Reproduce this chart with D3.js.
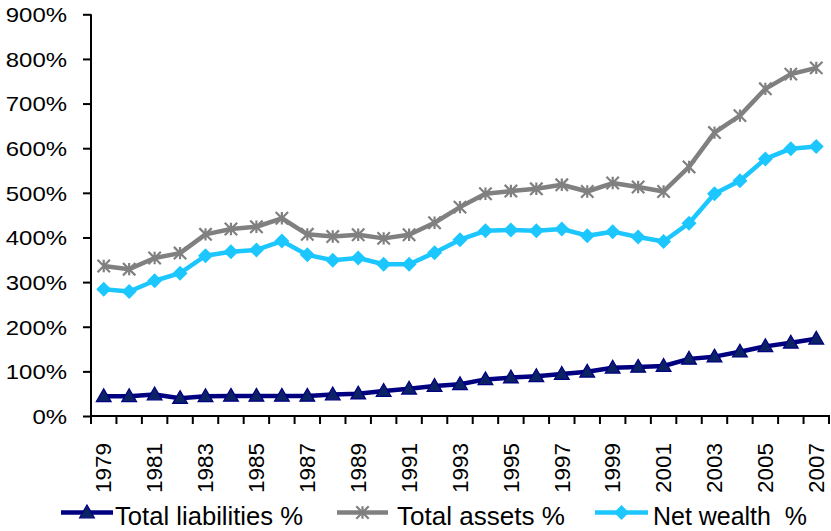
<!DOCTYPE html>
<html><head><meta charset="utf-8">
<script src="https://cdn.jsdelivr.net/npm/d3@7"></script>
<style>html,body{margin:0;padding:0;background:#fff;}svg{display:block;}</style>
</head><body>
<script>
const years = [1979,1980,1981,1982,1983,1984,1985,1986,1987,1988,1989,1990,1991,1992,1993,1994,1995,1996,1997,1998,1999,2000,2001,2002,2003,2004,2005,2006,2007];
const totalLiabilities = [44,44,48,40,44,45,45,45,45,48,50,56,61,67,71,82,86,89,94,99,108,110,112,128,133,144,156,164,173];
const totalAssets = [336,329,354,365,407,419,424,443,407,402,406,398,406,433,468,498,504,509,518,503,522,513,503,558,635,673,733,766,780];
const netWealth = [284,279,303,320,359,368,372,392,361,349,354,340,340,366,395,415,417,415,419,404,413,401,391,432,498,527,576,599,604];
const yTicks = [0,100,200,300,400,500,600,700,800,900];
const xLabels = years.filter((y,i)=>i%2===0);
const seriesNames = ["Total liabilities %","Total assets %","Net wealth  %"];

(function(){
const W=831,H=531;
const mLeft=91,mRight=829,mTop=14.3,mBottom=416;
const font="'Liberation Sans', Arial, sans-serif";

const svg=d3.select("body").append("svg").attr("width",W).attr("height",H);
const x=d3.scaleBand().domain(years).range([mLeft,mRight]).padding(0);
const y=d3.scaleLinear().domain([0,900]).range([mBottom,mTop]);
const cx=d=>x(d)+x.bandwidth()/2;

// Y axis
const yAxis=svg.append("g").attr("transform",`translate(${mLeft},0)`)
  .call(d3.axisLeft(y).tickValues(yTicks).tickFormat(d=>d+"%").tickSize(8).tickPadding(16));
yAxis.select(".domain").attr("stroke","#000").attr("stroke-width",2).attr("d",`M0,${y(900)}V${mBottom}`);
yAxis.selectAll(".tick line").attr("stroke","#000").attr("stroke-width",2);
yAxis.selectAll(".tick text").attr("font-family",font).attr("font-size",21).attr("fill","#000")
  .attr("x",-24).attr("dy","0.35em")
  .each(function(){const w=this.getComputedTextLength();d3.select(this).attr("textLength",w*1.14).attr("lengthAdjust","spacingAndGlyphs");});

// X axis
const xAxisG=svg.append("g");
xAxisG.append("line").attr("x1",mLeft-1).attr("x2",mRight+1).attr("y1",mBottom).attr("y2",mBottom).attr("stroke","#000").attr("stroke-width",2);
const bounds=years.map(d=>x(d)).concat([x(years[years.length-1])+x.bandwidth()]);
xAxisG.selectAll("line.tk").data(bounds).join("line").attr("class","tk")
  .attr("x1",d=>d).attr("x2",d=>d).attr("y1",mBottom).attr("y2",mBottom+8).attr("stroke","#000").attr("stroke-width",2);
xAxisG.selectAll("text").data(xLabels).join("text")
  .attr("transform",d=>`translate(${cx(d)},443) rotate(-90)`)
  .attr("text-anchor","end").attr("dy","0.36em")
  .attr("font-family",font).attr("font-size",21.5).attr("fill","#000")
  .attr("textLength",50).attr("lengthAdjust","spacingAndGlyphs")
  .text(d=>d);

const line=d3.line().x((d,i)=>cx(years[i])).y(d=>y(d));

const tri=d3.symbol().type(d3.symbolTriangle).size(95);
const starPath=r=>`M0,${-r}V${r}M${-r},${-r}L${r},${r}M${-r},${r}L${r},${-r}`;
const diamondPath=r=>`M0,${-r}L${r},0L0,${r}L${-r},0Z`;

const series=[
  {name:seriesNames[0],values:totalLiabilities,color:"#000080",marker:g=>g.append("path").attr("d",tri()).attr("transform","translate(0,1)").attr("fill","#0B2265").attr("stroke","#000080").attr("stroke-width",1.2)},
  {name:seriesNames[1],values:totalAssets,color:"#808080",marker:g=>g.append("path").attr("d",starPath(6.2)).attr("fill","none").attr("stroke","#808080").attr("stroke-width",2.2)},
  {name:seriesNames[2],values:netWealth,color:"#1CC6FF",marker:g=>g.append("path").attr("d",diamondPath(7.5)).attr("fill","#1CC6FF")}
];

series.forEach(s=>{
  svg.append("path").datum(s.values).attr("d",line).attr("fill","none").attr("stroke",s.color).attr("stroke-width",4.5).attr("stroke-linejoin","round");
  svg.selectAll(null).data(s.values).join("g").attr("transform",(d,i)=>`translate(${cx(years[i])},${y(d)})`).each(function(){s.marker(d3.select(this));});
});

// Legend
const legendItems=[
  {lx1:61,lx2:113,tx:115,tw:188},
  {lx1:337,lx2:388,tx:397,tw:168},
  {lx1:595,lx2:648,tx:653,tw:154}
];
series.forEach((s,i)=>{
  const L=legendItems[i];
  svg.append("line").attr("x1",L.lx1).attr("x2",L.lx2).attr("y1",512.5).attr("y2",512.5).attr("stroke",s.color).attr("stroke-width",4.5);
  const g=svg.append("g").attr("transform",`translate(${(L.lx1+L.lx2)/2},512.5)`);
  s.marker(g);
  svg.append("text").attr("x",L.tx).attr("y",525).attr("font-family",font).attr("font-size",26).attr("fill","#000")
    .attr("textLength",L.tw).attr("lengthAdjust","spacingAndGlyphs").style("white-space","pre").text(s.name);
});
})();
</script>
</body></html>
